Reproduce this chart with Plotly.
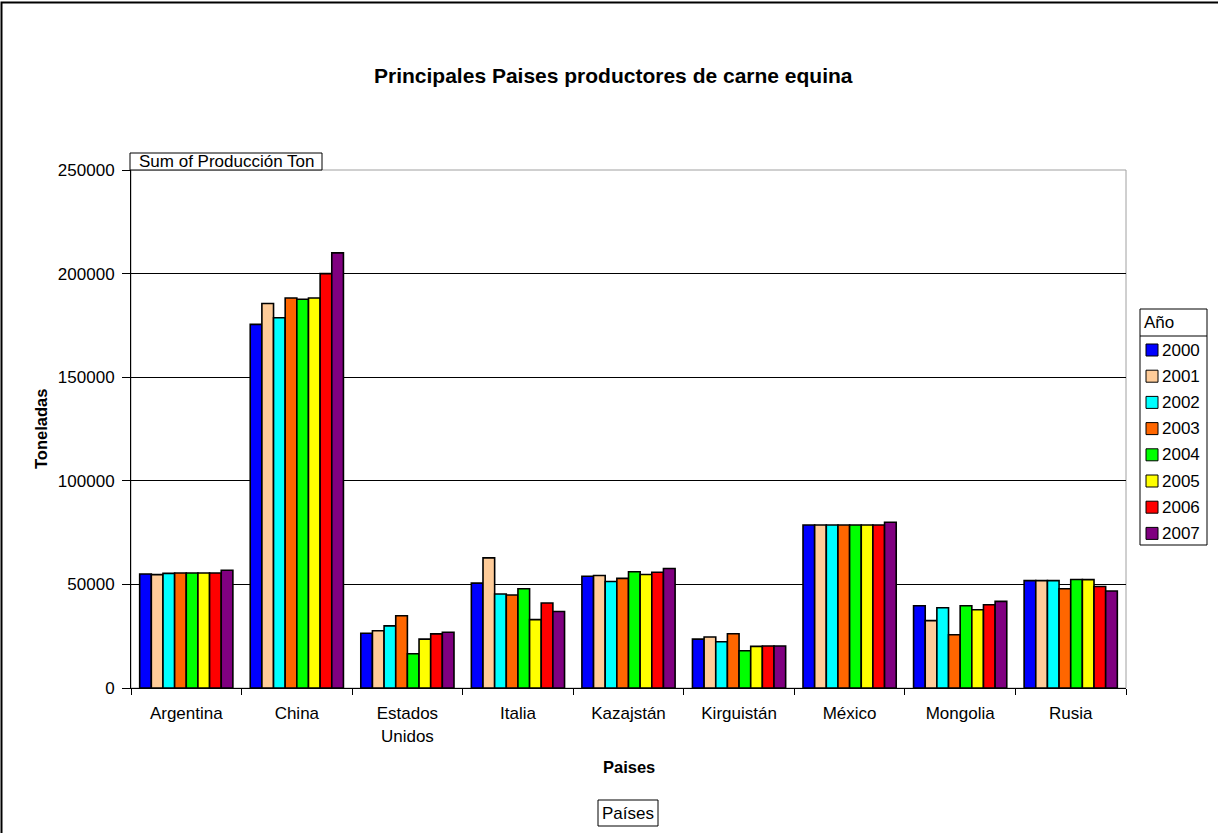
import plotly.graph_objects as go

# ---------------- data ----------------
countries = ["Argentina", "China", "Estados Unidos", "Italia", "Kazajstán",
             "Kirguistán", "México", "Mongolia", "Rusia"]
years = ["2000", "2001", "2002", "2003", "2004", "2005", "2006", "2007"]
prod_2000 = [55000, 175500, 26400, 50600, 53900, 23600, 78700, 39700, 51800]
prod_2001 = [54700, 185600, 27600, 62800, 54300, 24600, 78700, 32500, 51800]
prod_2002 = [55300, 178700, 30000, 45400, 51400, 22300, 78700, 38700, 51800]
prod_2003 = [55500, 188200, 34900, 44900, 52900, 26200, 78700, 25700, 47900]
prod_2004 = [55500, 187600, 16500, 47900, 56100, 18000, 78700, 39700, 52400]
prod_2005 = [55500, 188200, 23600, 33000, 54800, 20100, 78700, 37800, 52300]
prod_2006 = [55500, 200000, 26100, 41000, 55900, 20300, 78700, 40200, 49000]
prod_2007 = [56800, 210000, 26900, 36900, 57700, 20300, 80000, 41800, 46800]
series = [prod_2000, prod_2001, prod_2002, prod_2003,
          prod_2004, prod_2005, prod_2006, prod_2007]
colors = ["#0000FF", "#FFCC99", "#00FFFF", "#FF6600",
          "#00FF00", "#FFFF00", "#FF0000", "#800080"]
tick_labels = [c.replace(" ", "<br>") for c in countries]

# ---------------- geometry ----------------
W, H = 1218, 833
PL, PR, PT, PB = 131, 1126, 170, 688
FONT = "Liberation Sans, Arial, sans-serif"


def px(xp):
    return (xp - PL) / (PR - PL)


def py(yp):
    return (PB - yp) / (PB - PT)


fig = go.Figure()
for yr, vals, col in zip(years, series, colors):
    fig.add_trace(go.Bar(
        name=yr, x=countries, y=vals,
        marker=dict(color=col, line=dict(color="#000000", width=1.6)),
        showlegend=False,
    ))

shapes = []
annotations = []

# plot-area border (gray) behind
shapes.append(dict(type="rect", xref="paper", yref="paper", x0=0, x1=1, y0=0, y1=1,
                   line=dict(color="#A0A0A0", width=1), layer="below"))
# outer chart frame (only top/left visible)
shapes.append(dict(type="rect", xref="paper", yref="paper",
                   x0=px(1.5), x1=px(1240), y0=py(2.5), y1=py(860),
                   line=dict(color="#000000", width=2)))

# title
annotations.append(dict(text="<b>Principales Paises productores de carne equina</b>",
                        xref="paper", yref="paper", x=px(613.5), y=py(75.5),
                        xanchor="center", yanchor="middle", showarrow=False,
                        font=dict(family=FONT, size=21, color="#000")))
# y title
annotations.append(dict(text="<b>Toneladas</b>", xref="paper", yref="paper",
                        x=px(41), y=py(429), textangle=-90,
                        xanchor="center", yanchor="middle", showarrow=False,
                        font=dict(family=FONT, size=16.5, color="#000")))
# x title
annotations.append(dict(text="<b>Paises</b>", xref="paper", yref="paper",
                        x=px(628.5), y=py(767), xanchor="center", yanchor="middle",
                        showarrow=False, font=dict(family=FONT, size=16.5, color="#000")))

# "Sum of Producción Ton" box
shapes.append(dict(type="rect", xref="paper", yref="paper",
                   x0=px(130), x1=px(322), y0=py(170), y1=py(153),
                   line=dict(color="#000", width=1), fillcolor="#FFFFFF"))
annotations.append(dict(text="Sum of Producción Ton", xref="paper", yref="paper",
                        x=px(226), y=py(161.5), xanchor="center", yanchor="middle",
                        showarrow=False, font=dict(family=FONT, size=17, color="#000")))

# "Países" box
shapes.append(dict(type="rect", xref="paper", yref="paper",
                   x0=px(598), x1=px(658), y0=py(826), y1=py(800),
                   line=dict(color="#000", width=1), fillcolor="#FFFFFF"))
annotations.append(dict(text="Países", xref="paper", yref="paper",
                        x=px(628), y=py(813), xanchor="center", yanchor="middle",
                        showarrow=False, font=dict(family=FONT, size=17, color="#000")))

# legend (manual)
shapes.append(dict(type="rect", xref="paper", yref="paper",
                   x0=px(1140), x1=px(1207), y0=py(545), y1=py(309),
                   line=dict(color="#000", width=1), fillcolor="#FFFFFF"))
shapes.append(dict(type="line", xref="paper", yref="paper",
                   x0=px(1140), x1=px(1207), y0=py(336), y1=py(336),
                   line=dict(color="#000", width=1)))
annotations.append(dict(text="Año", xref="paper", yref="paper",
                        x=px(1142), y=py(322.5), xanchor="left", yanchor="middle",
                        showarrow=False, font=dict(family=FONT, size=17, color="#000")))
for i, (yr, col) in enumerate(zip(years, colors)):
    cy = 350 + i * 26.2
    shapes.append(dict(type="rect", xref="paper", yref="paper",
                       x0=px(1146), x1=px(1158), y0=py(cy + 6), y1=py(cy - 6),
                       line=dict(color="#000", width=1), fillcolor=col))
    annotations.append(dict(text=yr, xref="paper", yref="paper",
                            x=px(1160), y=py(cy), xanchor="left", yanchor="middle",
                            showarrow=False, font=dict(family=FONT, size=17, color="#000")))

fig.update_layout(
    width=W, height=H,
    margin=dict(l=PL, r=W - PR, t=PT, b=H - PB, pad=0),
    paper_bgcolor="#FFFFFF", plot_bgcolor="#FFFFFF",
    barmode="group", bargap=0.157, bargroupgap=0,
    font=dict(family=FONT, size=17, color="#000"),
    shapes=shapes, annotations=annotations,
    showlegend=False,
)
fig.update_xaxes(
    tickmode="array", tickvals=countries, ticktext=tick_labels,
    showline=True, linecolor="#000", linewidth=1,
    ticks="outside", tickson="boundaries", ticklen=6, tickcolor="#000",
    ticklabelstandoff=10,
    showgrid=False, tickfont=dict(family=FONT, size=17, color="#000"),
)
fig.update_yaxes(
    range=[0, 250000], dtick=50000, tickformat="d",
    showline=True, linecolor="#000", linewidth=1,
    ticks="outside", ticklen=8, tickcolor="#000",
    ticklabelstandoff=4,
    showgrid=True, gridcolor="#000000", gridwidth=1,
    zeroline=False, tickfont=dict(family=FONT, size=17, color="#000"),
)

fig.write_html("out.html", config={"displayModeBar": False},
               post_script="document.body.style.margin='0';document.body.style.overflow='hidden';")
